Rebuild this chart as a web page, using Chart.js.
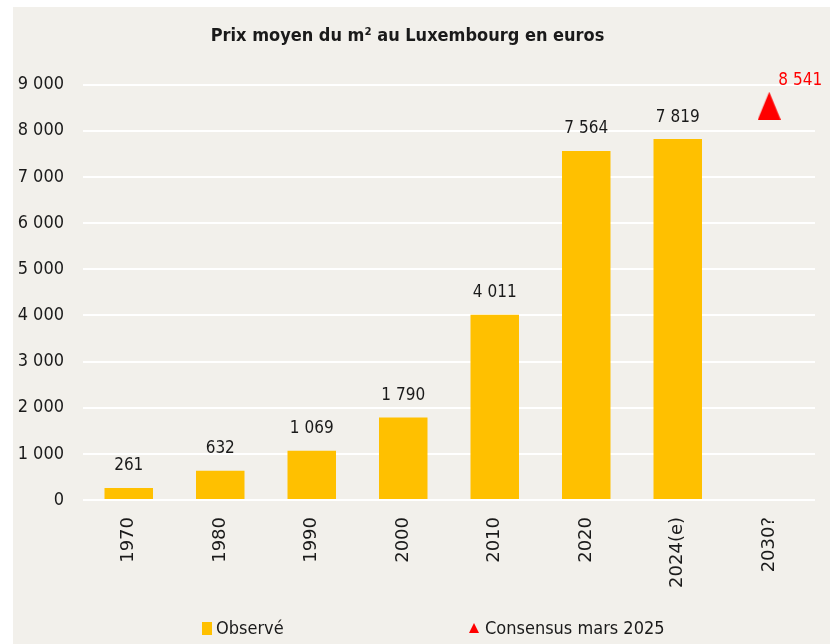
<!DOCTYPE html>
<html>
<head>
<meta charset="utf-8">
<script src="https://cdn.jsdelivr.net/npm/chart.js@4/dist/chart.umd.min.js"></script>
<style>
  html, body { margin: 0; padding: 0; background: #fff; }
  #wrap { position: relative; width: 830px; height: 644px; }
  #bg { position: absolute; left: 13px; top: 7px; right: 0; bottom: 0; background: #F2F0EB; }
  #chart { position: absolute; left: 0; top: 0; }
  .leg { position: absolute; top: 617px; font: 18px "DejaVu Sans Condensed", "Liberation Sans Narrow", sans-serif; color: #1a1a1a; line-height: 22px; white-space: nowrap; }
  .box { position: absolute; }
</style>
</head>
<body>
<div id="wrap">
  <div id="bg"></div>
  <canvas id="chart" width="830" height="644"></canvas>
  <div class="box" style="left:202px;top:622px;width:10px;height:13px;background:#FFC000;"></div>
  <span class="leg" style="left:216px;">Observé</span>
  <div class="box" style="left:469px;top:623px;width:0;height:0;border-left:5.5px solid transparent;border-right:5.5px solid transparent;border-bottom:10px solid #FF0000;"></div>
  <span class="leg" style="left:485px;">Consensus mars 2025</span>
</div>
<script>
// chart data
const categories = ['1970', '1980', '1990', '2000', '2010', '2020', '2024(e)', '2030?'];
const observed = [261, 632, 1069, 1790, 4011, 7564, 7819, null];
const consensus = [null, null, null, null, null, null, null, 8541];
const yTicks = [0, 1000, 2000, 3000, 4000, 5000, 6000, 7000, 8000, 9000];

const condensed = '"DejaVu Sans Condensed", "Liberation Sans Narrow", sans-serif';

function fmt(v) {
    return String(v).replace(/\B(?=(\d{3})+(?!\d))/g, ' ');
}

// red triangle marker for the forecast point
const tri = document.createElement('canvas');
tri.width = 23;
tri.height = 28;
const tctx = tri.getContext('2d');
tctx.fillStyle = '#FF0000';
tctx.beginPath();
tctx.moveTo(11.5, 0);
tctx.lineTo(23, 28);
tctx.lineTo(0, 28);
tctx.closePath();
tctx.fill();

// value labels above the bars and next to the triangle
const valueLabels = {
    id: 'valueLabels',
    afterDatasetsDraw(chart) {
        const ctx = chart.ctx;
        ctx.save();
        ctx.textAlign = 'center';
        ctx.textBaseline = 'middle';

        const barMeta = chart.getDatasetMeta(0);
        ctx.font = '17px ' + condensed;
        ctx.fillStyle = '#1a1a1a';
        barMeta.data.forEach((bar, i) => {
            if (observed[i] == null) return;
            ctx.fillText(fmt(observed[i]), bar.x, bar.y - 22);
        });

        const lineMeta = chart.getDatasetMeta(1);
        ctx.font = '17px ' + condensed;
        ctx.fillStyle = '#FF0000';
        lineMeta.data.forEach((pt, i) => {
            if (consensus[i] == null) return;
            ctx.fillText(fmt(consensus[i]), pt.x + 31, pt.y - 25);
        });
        ctx.restore();
    }
};

new Chart(document.getElementById('chart'), {
    type: 'bar',
    data: {
        labels: categories,
        datasets: [{
            label: 'Observé',
            data: observed,
            backgroundColor: '#FFC000',
            categoryPercentage: 1,
            barPercentage: 0.53
        }, {
            type: 'line',
            label: 'Consensus mars 2025',
            data: consensus,
            showLine: false,
            pointStyle: tri,
            pointRadius: 12,
            borderColor: '#FF0000',
            backgroundColor: '#FF0000'
        }]
    },
    options: {
        responsive: false,
        animation: false,
        layout: { padding: { left: 0, right: 15, top: 0, bottom: 0 } },
        plugins: {
            legend: { display: false },
            tooltip: { enabled: false },
            title: {
                display: true,
                text: 'Prix moyen du m² au Luxembourg en euros',
                color: '#1a1a1a',
                font: { family: condensed, size: 18, weight: 'bold' },
                padding: { top: 26, bottom: 37 }
            }
        },
        scales: {
            x: {
                grid: { display: false },
                border: { display: false },
                ticks: {
                    color: '#1a1a1a',
                    font: { family: '"DejaVu Sans", Verdana, sans-serif', size: 18 },
                    minRotation: 90,
                    maxRotation: 90,
                    padding: 9
                },
                afterFit(scale) { scale.height = 144; }
            },
            y: {
                min: 0,
                max: 9000,
                afterBuildTicks(scale) { scale.ticks = yTicks.map(v => ({ value: v })); },
                grid: { color: '#FFFFFF', lineWidth: 2, drawTicks: false },
                border: { display: false },
                ticks: {
                    color: '#1a1a1a',
                    font: { family: condensed, size: 18 },
                    padding: 19,
                    callback: v => fmt(v)
                },
                afterFit(scale) { scale.width = 83; }
            }
        }
    },
    plugins: [valueLabels]
});
</script>
</body>
</html>
